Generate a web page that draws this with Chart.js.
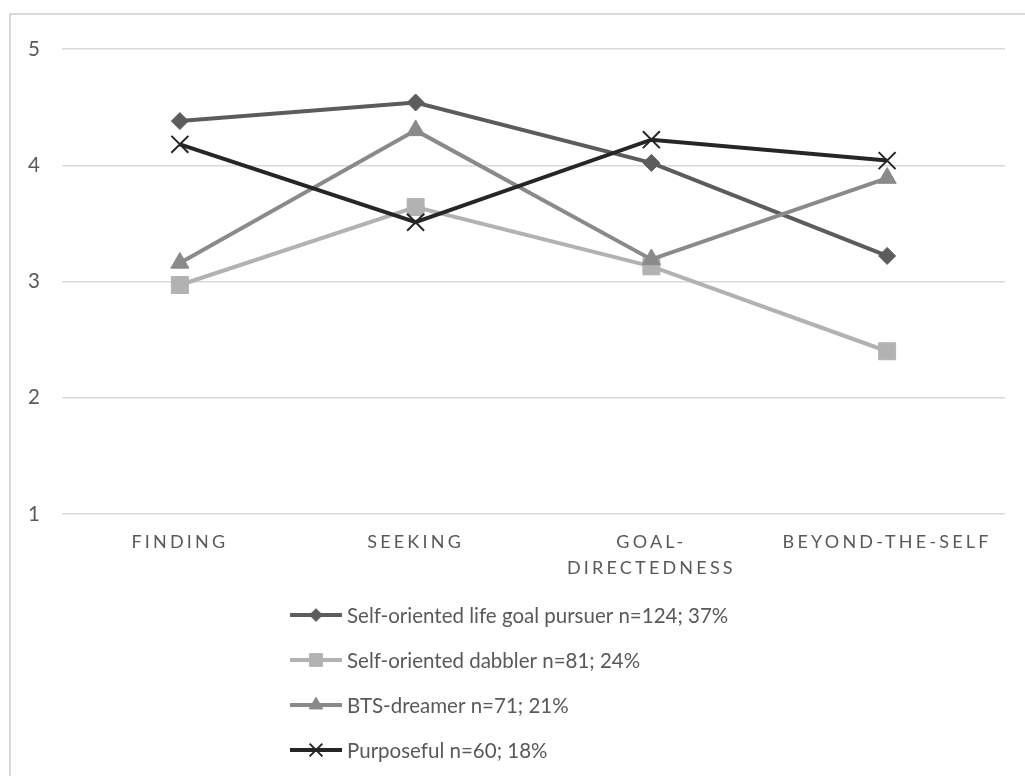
<!DOCTYPE html>
<html>
<head>
<meta charset="utf-8">
<script src="https://cdn.jsdelivr.net/npm/chart.js@4.4.1/dist/chart.umd.min.js"></script>
<style>
  html, body { margin: 0; padding: 0; background: #fff; overflow: hidden; }
  #frame { position: absolute; left: 9px; top: 13px; width: 1040px; height: 800px; border: 2px solid #d9d9d9; }
  #chart { position: absolute; left: 0; top: 0; }
</style>
</head>
<body>
<div id="frame"></div>
<canvas id="chart" width="1025" height="776"></canvas>
<script>
// categories (multi-line where the original wraps)
const categories = [['FINDING'], ['SEEKING'], ['GOAL-', 'DIRECTEDNESS'], ['BEYOND-THE-SELF']];
const seriesNames = [
  'Self-oriented life goal pursuer n=124; 37%',
  'Self-oriented dabbler n=81; 24%',
  'BTS-dreamer n=71; 21%',
  'Purposeful n=60; 18%'
];
const lifeGoalPursuer = [4.38, 4.54, 4.02, 3.22];
const dabbler = [2.97, 3.64, 3.13, 2.40];
const btsDreamer = [3.16, 4.30, 3.19, 3.89];
const purposeful = [4.18, 3.51, 4.22, 4.04];
const yTicks = [1, 2, 3, 4, 5];

Chart.defaults.font.family = 'Lato';
Chart.defaults.color = '#595959';

// letter-spaced x labels, like the original
const spacedLabels = {
  id: 'spacedLabels',
  beforeDraw(chart) {
    const xs = chart.scales.x;
    if (xs._spaced) return;
    const orig = xs.drawLabels;
    xs.drawLabels = function (area) {
      const c = this.ctx;
      c.save();
      c.letterSpacing = '3.2px';
      orig.call(this, area);
      c.restore();
    };
    xs._spaced = true;
  }
};

// one legend entry per row, left aligned under the plot
const stackedLegend = {
  id: 'stackedLegend',
  afterDraw(chart) {
    const ctx = chart.ctx;
    const x0 = 290, len = 52, step = 45;
    const top = chart.chartArea.bottom + 101;
    chart.data.datasets.forEach((ds, i) => {
      const y = top + i * step;
      ctx.save();
      ctx.strokeStyle = ds.borderColor;
      ctx.lineWidth = 4;
      ctx.beginPath();
      ctx.moveTo(x0, y);
      ctx.lineTo(x0 + len, y);
      ctx.stroke();
      ctx.fillStyle = ds.pointBackgroundColor;
      ctx.strokeStyle = ds.pointBorderColor;
      ctx.lineWidth = ds.pointBorderWidth;
      Chart.helpers.drawPoint(ctx, {
        pointStyle: ds.pointStyle,
        radius: ds.pointRadius * 0.75,
        rotation: 0,
        borderWidth: ds.pointBorderWidth
      }, x0 + len / 2, y);
      ctx.fillStyle = '#595959';
      ctx.font = '20.5px Lato';
      ctx.textBaseline = 'middle';
      ctx.textAlign = 'left';
      ctx.fillText(ds.label, x0 + len + 5, y + 1);
      ctx.restore();
    });
  }
};

function series(label, data, color, style, radius, order, bw) {
  return {
    label: label,
    data: data,
    borderColor: color,
    backgroundColor: color,
    borderWidth: 4,
    pointStyle: style,
    pointRadius: radius,
    pointHoverRadius: radius,
    pointBackgroundColor: color,
    pointBorderColor: color,
    pointBorderWidth: bw,
    tension: 0,
    fill: false,
    order: order
  };
}

new Chart(document.getElementById('chart'), {
  type: 'line',
  data: {
    labels: categories,
    datasets: [
      series(seriesNames[0], lifeGoalPursuer, '#5c5c5c', 'rectRot', 8.5, 4, 1),
      series(seriesNames[1], dabbler, '#b2b2b2', 'rect', 12, 3, 1),
      series(seriesNames[2], btsDreamer, '#8a8a8a', 'triangle', 10.5, 2, 1),
      series(seriesNames[3], purposeful, '#262626', 'crossRot', 12, 1, 2)
    ]
  },
  options: {
    responsive: false,
    animation: false,
    layout: { padding: { left: 0, right: 20, top: 49, bottom: 186 } },
    plugins: {
      legend: { display: false },
      tooltip: { enabled: false }
    },
    scales: {
      x: {
        offset: true,
        grid: { display: false, drawTicks: false },
        border: { display: false },
        ticks: { padding: 16, font: { size: 18, lineHeight: 1.4 }, color: '#595959', maxRotation: 0, autoSkip: false },
        afterFit(s) { s.height = 76; }
      },
      y: {
        min: 1,
        max: 5,
        afterBuildTicks(s) { s.ticks = yTicks.map(v => ({ value: v })); },
        grid: { color: '#d9d9d9', lineWidth: 1.5, drawTicks: false },
        border: { display: false },
        ticks: { padding: 22, font: { size: 20.5 }, color: '#595959' },
        afterFit(s) { s.width = 62; }
      }
    }
  },
  plugins: [spacedLabels, stackedLegend]
});
</script>
</body>
</html>
